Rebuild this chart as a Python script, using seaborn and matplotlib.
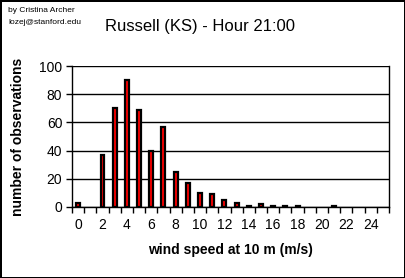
import matplotlib
matplotlib.use("Agg")
import matplotlib.pyplot as plt
import seaborn as sns
import pandas as pd

speeds = list(range(26))
counts = [3, 0, 37, 70, 90, 69, 40, 57, 25, 17, 10, 9, 5, 3, 1, 2, 1, 1, 1, 0, 0, 1, 0, 0, 0, 0]
xtick_labels = [str(v) for v in range(0, 25, 2)]
yticks = [0, 20, 40, 60, 80, 100]

sns.set_theme(style="white")
plt.rcParams['font.family'] = ['Liberation Sans', 'DejaVu Sans']
plt.rcParams['text.color'] = 'black'
plt.rcParams['axes.labelcolor'] = 'black'
plt.rcParams['xtick.color'] = 'black'
plt.rcParams['ytick.color'] = 'black'

df = pd.DataFrame({"speed": speeds, "count": counts})

fig = plt.figure(figsize=(4.05, 2.78), dpi=100, facecolor="white",
                 edgecolor="black", linewidth=2)
ax = fig.add_axes([72/405, 1-207/278, (389-72)/405, (207-66)/278])

sns.barplot(data=df, x="speed", y="count", color="red", width=0.32,
            edgecolor="black", linewidth=1.6, saturation=1, ax=ax, zorder=3)
for p in ax.patches:
    p.set_facecolor("#ff0000")
    if p.get_height() == 0:
        p.set_visible(False)

ax.set_xlim(-0.5, 25.5)
ax.set_ylim(0, 100)
ax.set_yticks(yticks)
ax.set_yticklabels([str(v) for v in yticks], fontsize=10)
ax.yaxis.grid(True, color="black", linewidth=1)
ax.set_axisbelow(True)

ax.set_xticks([k - 0.5 for k in range(27)])
ax.set_xticklabels([])
ax.set_xticks(list(range(0, 25, 2)), minor=True)
ax.set_xticklabels(xtick_labels, minor=True, fontsize=10)
ax.tick_params(axis="x", which="major", direction="out", length=4, width=1, color="black", bottom=True)
ax.tick_params(axis="x", which="minor", length=0, pad=8, bottom=True)
ax.tick_params(axis="y", direction="out", length=4, width=1, color="black", left=True, pad=3)

for s in ax.spines.values():
    s.set_color("black")
    s.set_linewidth(1)
ax.spines["top"].set_visible(False)

ax.set_xlabel("wind speed at 10 m (m/s)", fontsize=10, fontweight="bold", labelpad=8)
ax.set_ylabel("number of observations", fontsize=10, fontweight="bold", labelpad=10)

fig.text(0.494, 0.905, "Russell (KS) - Hour 21:00", fontsize=12, ha="center", va="center")
fig.text(8/405, 1-10/278, "by Cristina Archer", fontsize=6, ha="left", va="center")
fig.text(8/405, 1-22/278, "lozej@stanford.edu", fontsize=6, ha="left", va="center")

fig.savefig("out.png", dpi=100, facecolor="white", edgecolor="black")
